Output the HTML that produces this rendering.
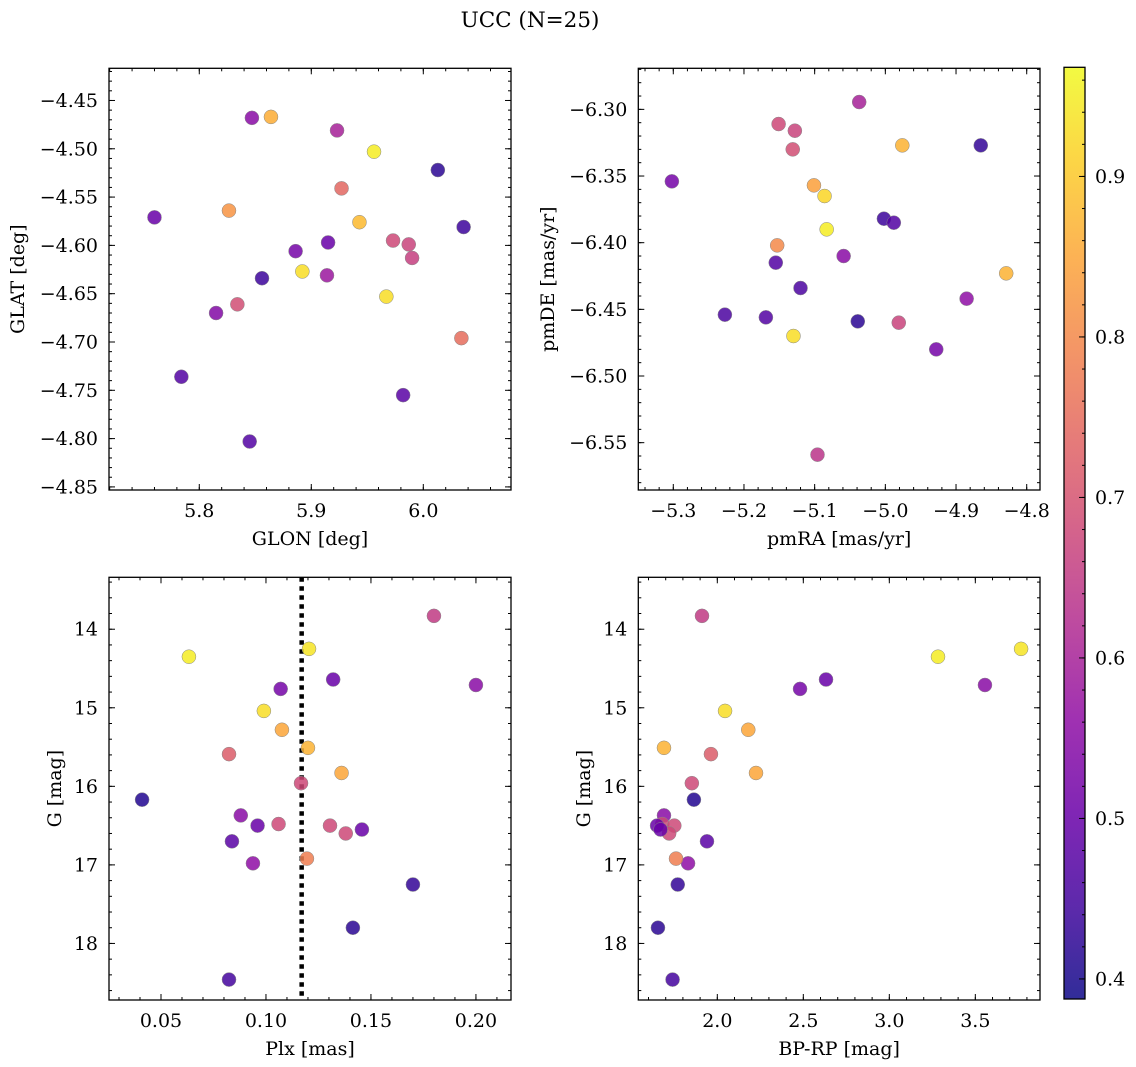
<!DOCTYPE html>
<html><head><meta charset="utf-8">
<style>
html,body{margin:0;padding:0;background:#fff;}
svg{display:block;font-family:"DejaVu Serif","Liberation Serif",serif;}
</style></head>
<body>
<svg id="fig" width="1136" height="1067" viewBox="0 0 1136 1067" xmlns="http://www.w3.org/2000/svg">
<text x="530" y="27" text-anchor="middle" font-size="21.5">UCC (N=25)</text>
</svg>
<script>
// ---- Panel 1: GLON vs GLAT ----
const glonA = [5.847,5.864,5.923,5.956,6.013,5.927,5.8265,5.760,5.943,6.036,5.973,5.915,5.987,5.886,5.990,5.892,5.914,5.856,5.834,5.815,5.967,6.034,5.784,5.982,5.845];
const glatA = [-4.468,-4.467,-4.481,-4.503,-4.522,-4.541,-4.564,-4.571,-4.576,-4.581,-4.595,-4.597,-4.599,-4.606,-4.613,-4.627,-4.631,-4.634,-4.661,-4.670,-4.653,-4.696,-4.736,-4.755,-4.803];
const probA = [0.55,0.86,0.60,0.95,0.42,0.74,0.82,0.50,0.88,0.44,0.68,0.50,0.67,0.52,0.66,0.93,0.58,0.44,0.69,0.54,0.93,0.75,0.47,0.48,0.47];
// ---- Panel 2: pmRA vs pmDE ----
const pmraB = [-5.037,-5.151,-5.128,-5.131,-4.865,-4.976,-5.302,-5.101,-5.086,-5.002,-4.988,-5.083,-5.153,-5.155,-5.059,-4.829,-5.120,-5.227,-5.169,-5.039,-4.885,-4.981,-5.130,-4.928,-5.096];
const pmdeB = [-6.2945,-6.311,-6.316,-6.330,-6.327,-6.327,-6.354,-6.357,-6.365,-6.382,-6.385,-6.390,-6.402,-6.415,-6.410,-6.423,-6.434,-6.454,-6.456,-6.459,-6.442,-6.460,-6.470,-6.480,-6.559];
const probB = [0.60,0.68,0.67,0.69,0.43,0.87,0.52,0.84,0.92,0.44,0.47,0.95,0.80,0.47,0.55,0.87,0.46,0.46,0.47,0.42,0.56,0.67,0.93,0.52,0.64];
// ---- Panel 3 & 4: Plx / BP-RP vs G ----
const plxC  = [0.0633,0.1205,0.180,0.200,0.107,0.132,0.099,0.1076,0.0824,0.120,0.136,0.1167,0.041,0.088,0.106,0.096,0.1305,0.138,0.1457,0.0838,0.0938,0.1195,0.170,0.1414,0.0824];
const bprpC = [3.283,3.766,1.911,3.556,2.481,2.632,2.045,2.18,1.963,1.69,2.225,1.852,1.864,1.69,1.68,1.65,1.75,1.72,1.67,1.94,1.83,1.76,1.77,1.655,1.74];
const gmagC = [14.35,14.25,13.83,14.71,14.76,14.64,15.04,15.28,15.59,15.51,15.83,15.96,16.17,16.37,16.48,16.50,16.50,16.60,16.55,16.70,16.98,16.92,17.25,17.80,18.46];
const probC = [0.95,0.94,0.65,0.55,0.52,0.50,0.93,0.85,0.72,0.87,0.85,0.68,0.41,0.55,0.68,0.50,0.68,0.68,0.50,0.48,0.56,0.78,0.43,0.42,0.45];
const plxLine = [0.117];
const cbTicks = [0.4,0.5,0.6,0.7,0.8,0.9];

const VMIN=0.3875, VMAX=0.968;
const FS=19;
const NS="http://www.w3.org/2000/svg";
const svg=document.getElementById('fig');
const plasma=[[13,8,135],[65,4,157],[106,0,168],[143,13,164],[177,42,144],[204,71,120],[225,100,98],[242,132,75],[252,166,54],[252,206,37],[240,249,33]];
function cmap(v){let t=(v-VMIN)/(VMAX-VMIN);t=Math.max(0,Math.min(1,t))*10;const i=Math.min(9,Math.floor(t));const f=t-i;const a=plasma[i],b=plasma[i+1];return 'rgb('+a.map((c,k)=>Math.round(c+(b[k]-c)*f)).join(',')+')';}
function el(tag,attrs,parent){const e=document.createElementNS(NS,tag);for(const k in attrs)e.setAttribute(k,attrs[k]);(parent||svg).appendChild(e);return e;}
function fmt(v,d){const s=Math.abs(v).toFixed(d);return (v<-1e-9?'\u2212':'')+s;}

function panel(cfg){
  const g=el('g',{});
  
  
  const [L,T,R,B]=cfg.box;
  const sx=v=>L+(v-cfg.xlim[0])/(cfg.xlim[1]-cfg.xlim[0])*(R-L);
  const sy=v=>B-(v-cfg.ylim[0])/(cfg.ylim[1]-cfg.ylim[0])*(B-T);
  const tg=el('g',{stroke:'#000','stroke-width':1},g);
  function ticksX(step,len,lab,dec){
    const lo=Math.min(...cfg.xlim),hi=Math.max(...cfg.xlim);
    for(let k=Math.ceil(lo/step-1e-6);k*step<=hi+1e-9;k++){const v=k*step;const x=sx(v);
      el('line',{x1:x,x2:x,y1:B,y2:B-len},tg);el('line',{x1:x,x2:x,y1:T,y2:T+len},tg);
      if(lab){const t=el('text',{x:x,y:B+27,'text-anchor':'middle','font-size':FS,stroke:'none'},g);t.textContent=fmt(v,dec);
        
        }}
  }
  function ticksY(step,len,lab,dec){
    const lo=Math.min(...cfg.ylim),hi=Math.max(...cfg.ylim);
    for(let k=Math.ceil(lo/step-1e-6);k*step<=hi+1e-9;k++){const v=k*step;const y=sy(v);
      el('line',{x1:L,x2:L+len,y1:y,y2:y},tg);el('line',{x1:R,x2:R-len,y1:y,y2:y},tg);
      if(lab){const t=el('text',{x:L-11,y:y+6.5,'text-anchor':'end','font-size':FS,stroke:'none'},g);t.textContent=fmt(v,dec);
        
        }}
  }
  ticksX(cfg.xmin,3,false);ticksX(cfg.xmaj,6,true,cfg.xdec);
  ticksY(cfg.ymin,3,false);ticksY(cfg.ymaj,6,true,cfg.ydec);
  if(cfg.vline){cfg.vline.forEach(v=>{const l=el('line',{x1:sx(v),x2:sx(v),y1:T,y2:B,stroke:'#000','stroke-width':4.5,'stroke-dasharray':'4.5,4.5'},g);
    
    });}
  cfg.xs.forEach((xv,i)=>{
    const c=el('circle',{cx:sx(xv),cy:sy(cfg.ys[i]),r:7,fill:cmap(cfg.c[i]),'fill-opacity':0.85,stroke:'#888','stroke-width':0.5},g);
    
    
  });
  const fr=el('rect',{x:L,y:T,width:R-L,height:B-T,fill:'none',stroke:'#000','stroke-width':1.3},g);
  
  
  const xl=el('text',{x:(L+R)/2,y:B+55,'text-anchor':'middle','font-size':FS},g);xl.textContent=cfg.xlabel;
  
  
  const yx=cfg.ylx, yc=(T+B)/2;
  const yl=el('text',{x:yx,y:yc,'text-anchor':'middle','font-size':FS,transform:'rotate(-90 '+yx+' '+yc+')'},g);yl.textContent=cfg.ylabel;
  
  
}

panel({name:'glon-glat-panel',box:[109,68.3,511,490],xlim:[5.7194,6.0783],ylim:[-4.8532,-4.4167],xmaj:0.1,xmin:0.02,ymaj:0.05,ymin:0.01,xdec:1,ydec:2,xs:glonA,ys:glatA,c:probA,xlabel:'GLON [deg]',ylabel:'GLAT [deg]',ylx:24});
panel({name:'pm-panel',box:[638.3,68.3,1040,490],xlim:[-5.3495,-4.7812],ylim:[-6.5855,-6.2692],xmaj:0.1,xmin:0.02,ymaj:0.05,ymin:0.01,xdec:1,ydec:2,xs:pmraB,ys:pmdeB,c:probB,xlabel:'pmRA [mas/yr]',ylabel:'pmDE [mas/yr]',ylx:554});
panel({name:'plx-g-panel',box:[109,577.3,511,1000],xlim:[0.02524,0.2167],ylim:[18.72,13.339],xmaj:0.05,xmin:0.01,ymaj:1,ymin:0.2,xdec:2,ydec:0,xs:plxC,ys:gmagC,c:probC,xlabel:'Plx [mas]',ylabel:'G [mag]',ylx:61,vline:plxLine});
panel({name:'cmd-panel',box:[638.3,577.3,1040,1000],xlim:[1.5407,3.876],ylim:[18.72,13.339],xmaj:0.5,xmin:0.1,ymaj:1,ymin:0.2,xdec:1,ydec:0,xs:bprpC,ys:gmagC,c:probC,xlabel:'BP-RP [mag]',ylabel:'G [mag]',ylx:590});

(function(){
  const L=1064,R=1085,T=67.3,B=999;
  const cg=el('g',{});
  
  
  const defs=el('defs',{},cg);
  const lg=el('linearGradient',{id:'cbg',x1:0,y1:1,x2:0,y2:0},defs);
  for(let i=0;i<=20;i++){const v=VMIN+(VMAX-VMIN)*i/20;el('stop',{offset:(i/20),'stop-color':cmap(v)},lg);}
  el('rect',{x:L,y:T,width:R-L,height:B-T,fill:'url(#cbg)','fill-opacity':0.85},cg);
  const sy=v=>B-(v-VMIN)/(VMAX-VMIN)*(B-T);
  for(let k=Math.ceil(VMIN/0.02);k*0.02<=VMAX;k++){const y=sy(k*0.02);el('line',{x1:R,x2:R-3,y1:y,y2:y,stroke:'#000','stroke-width':1},cg);}
  cbTicks.forEach(v=>{const y=sy(v);el('line',{x1:R,x2:R-6,y1:y,y2:y,stroke:'#000','stroke-width':1},cg);
    const t=el('text',{x:R+10,y:y+6.5,'font-size':FS},cg);t.textContent=v.toFixed(1);
    
    });
  el('rect',{x:L,y:T,width:R-L,height:B-T,fill:'none',stroke:'#000','stroke-width':1.3},cg);
})();
</script>
</body></html>
